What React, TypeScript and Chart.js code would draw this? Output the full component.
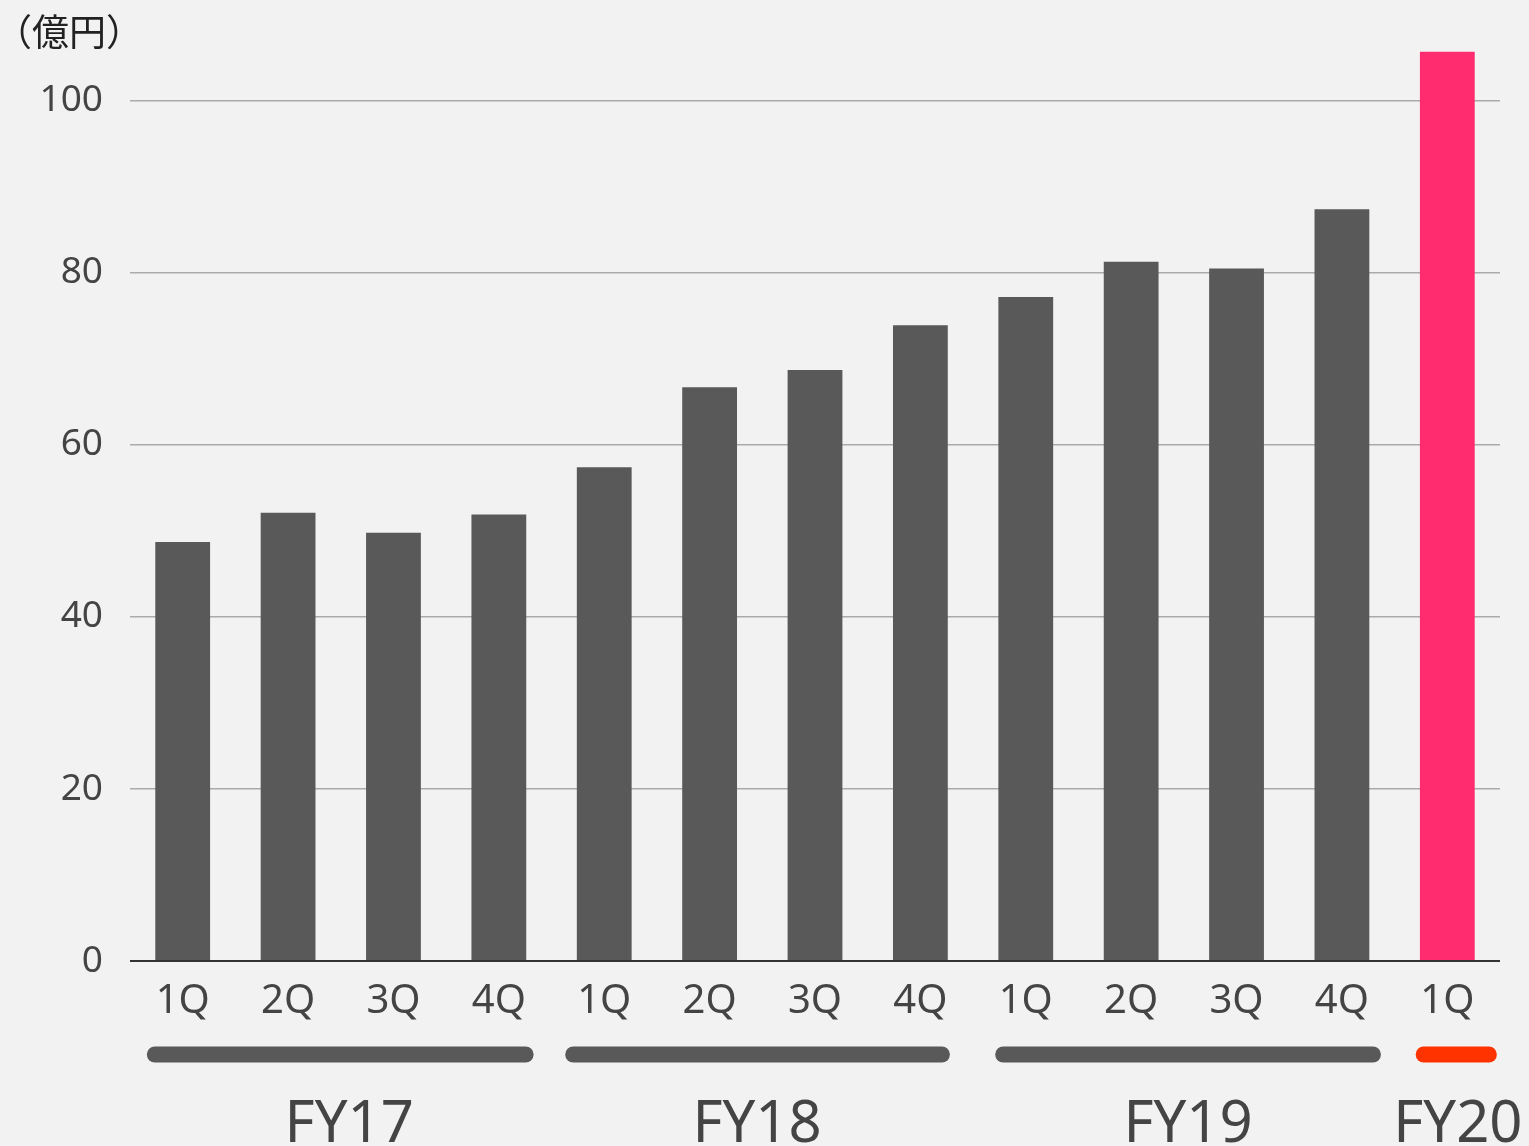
import { useEffect, useRef } from "react";
import { Chart, registerables } from "chart.js";

Chart.register(...registerables);

const quarters = ["1Q", "2Q", "3Q", "4Q", "1Q", "2Q", "3Q", "4Q", "1Q", "2Q", "3Q", "4Q", "1Q"];
const sales = [48.7, 52.1, 49.8, 51.9, 57.4, 66.7, 68.7, 73.9, 77.2, 81.3, 80.5, 87.4, 105.7];
const barColors = [
  "#595959", "#595959", "#595959", "#595959",
  "#595959", "#595959", "#595959", "#595959",
  "#595959", "#595959", "#595959", "#595959",
  "#ff2d6f",
];
const yTicks = [0, 20, 40, 60, 80, 100];

// fiscal-year brackets, positions in category units
const fyLabels = ["FY17", "FY18", "FY19", "FY20"];
const fyStart = [-0.34, 3.63, 7.71, 11.7];
const fyEnd = [3.33, 7.28, 11.37, 12.47];
const fyLabelPos = [1.58, 5.45, 9.54, 12.1];
const fyColors = ["#595959", "#595959", "#595959", "#ff3300"];

const unitLabel = "（億円）";
const font = "'Noto Sans', 'Noto Sans CJK JP', sans-serif";
const jpFont = "'Noto Sans CJK JP', sans-serif";
const textColor = "#444444";

const fiscalYearPlugin = {
  id: "fiscalYears",
  afterDraw(chart: any) {
    const { ctx } = chart;
    const x = chart.scales.x;
    ctx.save();
    // unit label
    ctx.fillStyle = "#222222";
    ctx.font = `37px ${jpFont}`;
    ctx.textAlign = "left";
    ctx.textBaseline = "alphabetic";
    ctx.fillText(unitLabel, -5, 46);

    fyLabels.forEach((label, i) => {
      const start = x.getPixelForValue(fyStart[i]) + 8;
      const end = x.getPixelForValue(fyEnd[i]) - 8;
      ctx.strokeStyle = fyColors[i];
      ctx.lineWidth = 16;
      ctx.lineCap = "round";
      ctx.beginPath();
      ctx.moveTo(start, 1054.5);
      ctx.lineTo(end, 1054.5);
      ctx.stroke();

      ctx.fillStyle = textColor;
      ctx.font = `58px ${font}`;
      ctx.textAlign = "center";
      ctx.fillText(label, x.getPixelForValue(fyLabelPos[i]), 1142);
    });
    ctx.restore();
  },
};

const App = () => {
  const canvasRef = useRef<HTMLCanvasElement | null>(null);
  const chartRef = useRef<any>(null);

  useEffect(() => {
    document.body.style.margin = "0";
    document.body.style.background = "#f2f2f2";
    if (!canvasRef.current) return;
    if (chartRef.current) chartRef.current.destroy();

    chartRef.current = new Chart(canvasRef.current, {
      type: "bar",
      data: {
        labels: quarters,
        datasets: [
          {
            data: sales,
            backgroundColor: barColors,
            categoryPercentage: 1,
            barPercentage: 0.52,
          },
        ],
      },
      options: {
        responsive: true,
        maintainAspectRatio: false,
        animation: false,
        layout: { padding: { top: 45, right: 29, left: 0, bottom: 0 } },
        scales: {
          x: {
            grid: { display: false, drawTicks: false },
            border: { display: false },
            ticks: {
              color: textColor,
              font: { family: font, size: 40 },
              padding: 17,
              maxRotation: 0,
              autoSkip: false,
            },
            afterFit: (scale: any) => {
              scale.height = 185;
            },
          },
          y: {
            min: 0,
            max: 106,
            afterBuildTicks: (scale: any) => {
              scale.ticks = yTicks.map((v) => ({ value: v }));
            },
            afterFit: (scale: any) => {
              scale.width = 130;
            },
            grid: {
              drawTicks: false,
              color: (c: any) => (c.tick && c.tick.value === 0 ? "#333333" : "#aaaaaa"),
              lineWidth: (c: any) => (c.tick && c.tick.value === 0 ? 2 : 1.5),
            },
            border: { display: false },
            ticks: {
              color: textColor,
              font: { family: font, size: 37 },
              padding: 27,
            },
          },
        },
        plugins: {
          legend: { display: false },
          tooltip: { enabled: false },
        },
      },
      plugins: [fiscalYearPlugin],
    });

    return () => chartRef.current?.destroy();
  }, []);

  return (
    <div style={{ width: 1529, height: 1146, background: "#f2f2f2", position: "relative" }}>
      <canvas ref={canvasRef}></canvas>
    </div>
  );
};

export default App;
